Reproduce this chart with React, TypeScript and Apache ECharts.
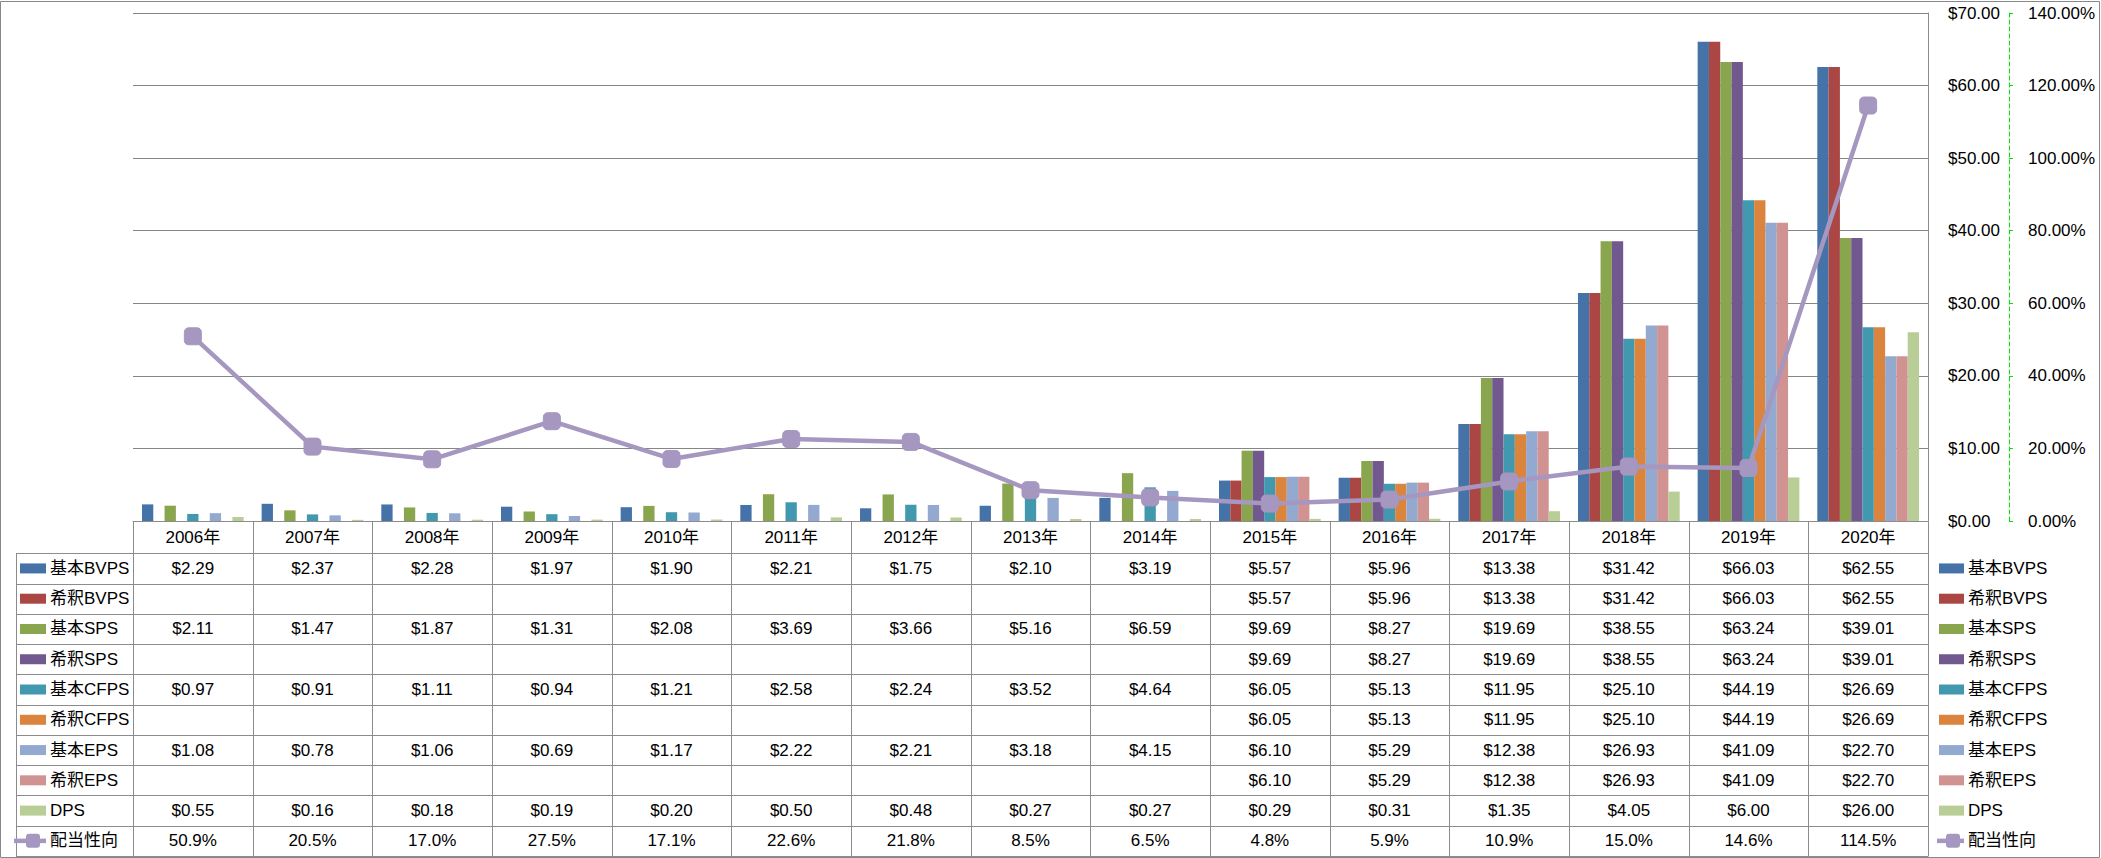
import React, { useEffect, useRef } from "react";
import * as echarts from "echarts";

// ---------- data ----------
const years = ["2006年", "2007年", "2008年", "2009年", "2010年", "2011年", "2012年", "2013年", "2014年", "2015年", "2016年", "2017年", "2018年", "2019年", "2020年"];

const basicBVPS = [2.29, 2.37, 2.28, 1.97, 1.9, 2.21, 1.75, 2.1, 3.19, 5.57, 5.96, 13.38, 31.42, 66.03, 62.55];
const dilutedBVPS = [null, null, null, null, null, null, null, null, null, 5.57, 5.96, 13.38, 31.42, 66.03, 62.55];
const basicSPS = [2.11, 1.47, 1.87, 1.31, 2.08, 3.69, 3.66, 5.16, 6.59, 9.69, 8.27, 19.69, 38.55, 63.24, 39.01];
const dilutedSPS = [null, null, null, null, null, null, null, null, null, 9.69, 8.27, 19.69, 38.55, 63.24, 39.01];
const basicCFPS = [0.97, 0.91, 1.11, 0.94, 1.21, 2.58, 2.24, 3.52, 4.64, 6.05, 5.13, 11.95, 25.1, 44.19, 26.69];
const dilutedCFPS = [null, null, null, null, null, null, null, null, null, 6.05, 5.13, 11.95, 25.1, 44.19, 26.69];
const basicEPS = [1.08, 0.78, 1.06, 0.69, 1.17, 2.22, 2.21, 3.18, 4.15, 6.1, 5.29, 12.38, 26.93, 41.09, 22.7];
const dilutedEPS = [null, null, null, null, null, null, null, null, null, 6.1, 5.29, 12.38, 26.93, 41.09, 22.7];
const dps = [0.55, 0.16, 0.18, 0.19, 0.2, 0.5, 0.48, 0.27, 0.27, 0.29, 0.31, 1.35, 4.05, 6.0, 26.0];
const payoutRatio = [50.9, 20.5, 17.0, 27.5, 17.1, 22.6, 21.8, 8.5, 6.5, 4.8, 5.9, 10.9, 15.0, 14.6, 114.5];

const barNames = ["基本BVPS", "希釈BVPS", "基本SPS", "希釈SPS", "基本CFPS", "希釈CFPS", "基本EPS", "希釈EPS", "DPS"];
const barData = [basicBVPS, dilutedBVPS, basicSPS, dilutedSPS, basicCFPS, dilutedCFPS, basicEPS, dilutedEPS, dps];
const barColors = ["#4572A7", "#AA4643", "#89A54E", "#71588F", "#4198AF", "#DB843D", "#93A9CF", "#D19392", "#B9CD96"];
const lineName = "配当性向";
const lineColor = "#A597BF";

const priceMin = 0;
const priceMax = 70;
const priceInterval = 10;
const pctMin = 0;
const pctMax = 140;
const pctInterval = 20;

// ---------- layout ----------
const W = 2101;
const H = 858;
const FONT = "'Liberation Sans', 'Noto Sans CJK JP', sans-serif";
const FS = 17;
const GRID_LEFT = 133;
const GRID_TOP = 13;
const GRID_W = 1795;
const GRID_H = 508;
const TABLE_LEFT = 16;
const ROW0 = 553.3;
const ROW_H = 30.27;
const LINE_COLOR = "#8C8C8C";

export default function App() {
  const ref = useRef<HTMLDivElement>(null);

  useEffect(() => {
    document.body.style.margin = "0";
    const chart = echarts.init(ref.current!, null, { renderer: "svg" });

    const series: any[] = barNames.map((name, i) => ({
      name,
      type: "bar",
      yAxisIndex: 0,
      data: barData[i],
      itemStyle: { color: barColors[i] },
      barGap: "0%",
      barCategoryGap: "15%",
    }));
    series.push({
      name: lineName,
      type: "line",
      yAxisIndex: 1,
      data: payoutRatio,
      symbol: "roundRect",
      symbolSize: 17,
      itemStyle: { color: lineColor, borderColor: lineColor },
      lineStyle: { color: lineColor, width: 4.5 },
      z: 10,
    });

    chart.setOption({
      animation: false,
      textStyle: { fontFamily: FONT, color: "#000" },
      grid: { left: GRID_LEFT, top: GRID_TOP, width: GRID_W, height: GRID_H, containLabel: false },
      xAxis: {
        type: "category",
        data: years,
        axisLine: { lineStyle: { color: LINE_COLOR, width: 1 } },
        axisTick: { show: false },
        axisLabel: { fontSize: FS, color: "#000", margin: 16, verticalAlign: "middle", fontFamily: FONT },
      },
      yAxis: [
        {
          type: "value",
          position: "right",
          min: priceMin,
          max: priceMax,
          interval: priceInterval,
          axisLine: { show: true, lineStyle: { color: LINE_COLOR, width: 1 } },
          axisTick: { show: false },
          axisLabel: { fontSize: FS, color: "#000", margin: 20, fontFamily: FONT, formatter: (v: number) => "$" + v.toFixed(2) },
          splitLine: { show: true, lineStyle: { color: "#868686", width: 1 } },
        },
        {
          type: "value",
          position: "right",
          offset: 81,
          min: pctMin,
          max: pctMax,
          interval: pctInterval,
          axisLine: { show: true, lineStyle: { color: "#00E600", width: 1, type: [4, 3] } },
          axisTick: { show: true, inside: false, length: 4, lineStyle: { color: "#00E600" } },
          axisLabel: { fontSize: FS, color: "#000", margin: 19, fontFamily: FONT, formatter: (v: number) => v.toFixed(2) + "%" },
          splitLine: { show: false },
        },
      ],
      series,
    });

    // ---------- data table drawn below the plot ----------
    const c0 = chart.convertToPixel({ xAxisIndex: 0 }, 0) as number;
    const c1 = chart.convertToPixel({ xAxisIndex: 0 }, 1) as number;
    const band = c1 - c0;
    const axisY = chart.convertToPixel({ yAxisIndex: 0 }, 0) as number;
    const rightX = c0 - band / 2 + band * years.length;
    const bottomY = ROW0 + ROW_H * 10;
    const crisp = (v: number) => Math.round(v) + 0.5;
    const txt = (x: number, y: number, text: string, align: string) => ({
      type: "text",
      silent: true,
      x,
      y,
      style: { text, fontSize: FS, fontFamily: FONT, fill: "#000", align, verticalAlign: "middle" },
    });

    const g: any[] = [];
    g.push({
      type: "rect",
      silent: true,
      shape: { x: 0.5, y: 1.5, width: W - 2, height: H - 2 },
      style: { fill: "none", stroke: "#888", lineWidth: 1 },
    });
    for (let i = 0; i <= 10; i++) {
      const y = crisp(ROW0 + ROW_H * i);
      g.push({ type: "line", silent: true, shape: { x1: TABLE_LEFT, y1: y, x2: rightX, y2: y }, style: { stroke: LINE_COLOR, lineWidth: 1 } });
    }
    g.push({ type: "line", silent: true, shape: { x1: crisp(TABLE_LEFT), y1: crisp(ROW0), x2: crisp(TABLE_LEFT), y2: crisp(bottomY) }, style: { stroke: LINE_COLOR, lineWidth: 1 } });
    for (let k = 0; k <= years.length; k++) {
      const x = crisp(c0 - band / 2 + band * k);
      g.push({ type: "line", silent: true, shape: { x1: x, y1: crisp(axisY), x2: x, y2: crisp(bottomY) }, style: { stroke: LINE_COLOR, lineWidth: 1 } });
    }

    const rowCenter = (i: number) => ROW0 + ROW_H * i + ROW_H / 2;
    const legendX = rightX + 11;
    barNames.forEach((name, i) => {
      const cy = rowCenter(i);
      // table header key + name
      g.push({ type: "rect", silent: true, shape: { x: 20, y: cy - 5, width: 26, height: 10 }, style: { fill: barColors[i] } });
      g.push(txt(50, cy, name, "left"));
      // right-hand legend
      g.push({ type: "rect", silent: true, shape: { x: legendX, y: cy - 5, width: 25, height: 10 }, style: { fill: barColors[i] } });
      g.push(txt(legendX + 29, cy, name, "left"));
      barData[i].forEach((v, j) => {
        if (v == null) return;
        const cx = chart.convertToPixel({ xAxisIndex: 0 }, j) as number;
        g.push(txt(cx, cy, "$" + v.toFixed(2), "center"));
      });
    });
    const ly = rowCenter(9);
    g.push({ type: "line", silent: true, shape: { x1: 14, y1: ly, x2: 46, y2: ly }, style: { stroke: lineColor, lineWidth: 4.5 } });
    g.push({ type: "rect", silent: true, shape: { x: 26, y: ly - 7, width: 14, height: 14, r: 3 }, style: { fill: lineColor } });
    g.push(txt(50, ly, lineName, "left"));
    g.push({ type: "line", silent: true, shape: { x1: legendX - 2, y1: ly, x2: legendX + 25, y2: ly }, style: { stroke: lineColor, lineWidth: 4.5 } });
    g.push({ type: "rect", silent: true, shape: { x: legendX + 7, y: ly - 7, width: 14, height: 14, r: 3 }, style: { fill: lineColor } });
    g.push(txt(legendX + 29, ly, lineName, "left"));
    payoutRatio.forEach((v, j) => {
      const cx = chart.convertToPixel({ xAxisIndex: 0 }, j) as number;
      g.push(txt(cx, ly, v.toFixed(1) + "%", "center"));
    });

    chart.setOption({ graphic: g });

    return () => chart.dispose();
  }, []);

  return <div ref={ref} style={{ width: W, height: H }} />;
}
